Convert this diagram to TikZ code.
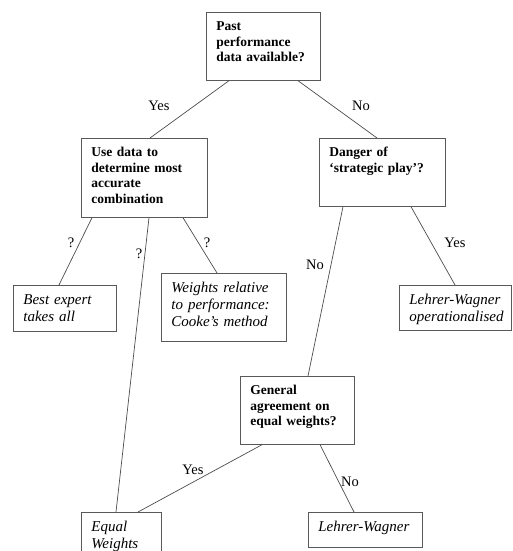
\documentclass[tikz,border=0pt]{standalone}
\usepackage{fontspec}
\setmainfont{Liberation Serif}
\usepackage{tikz}
\hyphenpenalty=10000
\exhyphenpenalty=10000

\tikzset{
	box/.style={draw=black!65,line width=0.7pt,anchor=north west,align=left,inner xsep=10pt,inner ysep=7pt},
	qbox/.style={box,font=\fontsize{13.5}{15.5}\selectfont\bfseries,text height=11.5pt},
	obox/.style={box,font=\fontsize{15}{17}\selectfont\itshape,text height=12.5pt},
	lbl/.style={font=\fontsize{14.5}{16}\selectfont,inner sep=0pt},
	link/.style={draw=black!70,line width=0.7pt}
}

\begin{document}
\begin{tikzpicture}[x=1pt,y=-1pt]
	\useasboundingbox (0,0) rectangle (512,551);
	\clip (0,0) rectangle (512,551);
	\node[qbox,text width=94pt,text depth=42.5pt] (past) at (206,12) {Past\\performance\\data available?};
	\node[qbox,text width=106pt,text depth=53.5pt] (usedata) at (81,138) {Use data to\\determine most\\accurate\\combination};
	\node[qbox,text width=106pt,text depth=42.5pt] (danger) at (319,138) {Danger of\\`strategic play'?};
	\node[qbox,text width=94pt,text depth=42.5pt] (general) at (240,376) {General\\agreement on\\equal weights?};
	\node[obox,text width=83pt,text depth=19.5pt] (best) at (13,285) {Best expert\\takes all};
	\node[obox,text width=105pt,text depth=41.5pt] (weights) at (161,273) {Weights relative\\to performance:\\Cooke's method};
	\node[obox,text width=92pt,text depth=18.5pt] (lwop) at (399,285) {Lehrer-Wagner\\operationalised};
	\node[obox,text width=60pt,text depth=19.5pt] (equal) at (81,512) {Equal\\Weights};
	\node[obox,text width=94pt,text depth=8.5pt] (lw) at (308,512) {Lehrer-Wagner};

	\draw[link] ([xshift=23pt]past.south west) -- ([xshift=69pt]usedata.north west);
	\draw[link] ([xshift=92pt]past.south west) -- ([xshift=58pt]danger.north west);
	\draw[link] ([xshift=11pt]usedata.south west) -- ([xshift=46pt]best.north west);
	\draw[link] ([xshift=68pt]usedata.south west) -- ([xshift=35pt]equal.north west);
	\draw[link] ([xshift=102pt]usedata.south west) -- ([xshift=56pt]weights.north west);
	\draw[link] ([xshift=24pt]danger.south west) -- ([xshift=68pt]general.north west);
	\draw[link] ([xshift=92pt]danger.south west) -- ([xshift=56pt]lwop.north west);
	\draw[link] ([xshift=22pt]general.south west) -- ([xshift=57pt]equal.north west);
	\draw[link] ([xshift=80pt]general.south west) -- ([xshift=46pt]lw.north west);

	\node[lbl] (yes1) at (159,106) {Yes};
	\node[lbl] (no1) at (361,106) {No};
	\node[lbl] (q1) at (71,243) {?};
	\node[lbl] (q2) at (139,254) {?};
	\node[lbl] (q3) at (207,243) {?};
	\node[lbl] (no2) at (315,265) {No};
	\node[lbl] (yes2) at (455,243) {Yes};
	\node[lbl] (yes3) at (193,470) {Yes};
	\node[lbl] (no3) at (350,482) {No};
\end{tikzpicture}
\end{document}
